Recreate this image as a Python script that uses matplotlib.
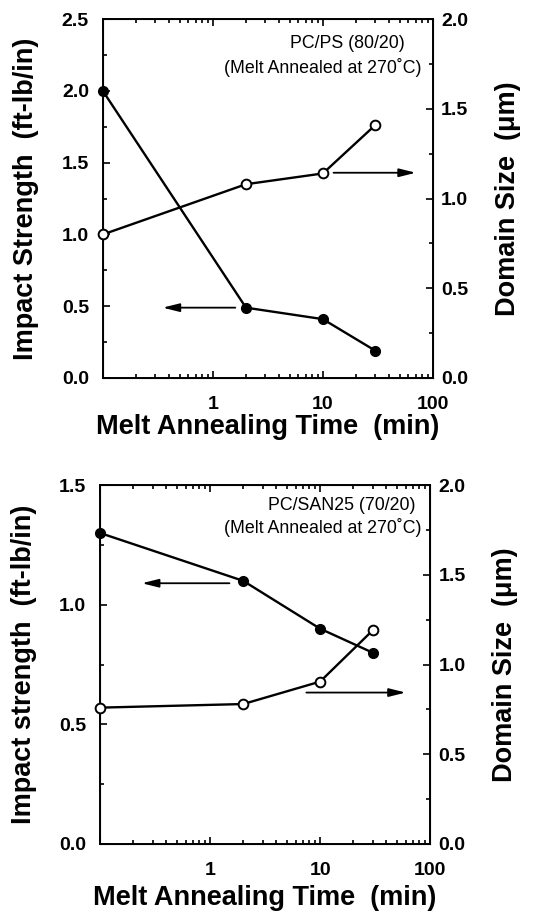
import numpy as np
import matplotlib
matplotlib.use('Agg')
import matplotlib.pyplot as plt
from matplotlib.ticker import MultipleLocator, LogLocator, NullFormatter

plt.rcParams['font.family'] = ['Liberation Sans', 'DejaVu Sans']

# annealing time (min)
time = [0.1, 2, 10, 30]

# PC/PS (80/20)
ps_impact = [2.0, 0.49, 0.41, 0.19]
ps_domain = [0.80, 1.08, 1.14, 1.41]

# PC/SAN25 (70/20)
san_impact = [1.30, 1.10, 0.90, 0.80]
san_domain = [0.76, 0.78, 0.905, 1.19]

xtick_vals = [0.1, 1, 10, 100]
xtick_labels = ['', '1', '10', '100']

fig = plt.figure(figsize=(5.5, 9.13), dpi=100)


def panel(rect, impact, domain, ymax_left, ylabel, title1, title2, t1pos, t2pos,
          larrow, rarrow, xlabelpad):
    ax = fig.add_axes(rect)
    ax.plot(time, impact, '-o', color='black', lw=1.7, ms=7,
            mfc='black', mec='black', zorder=3, clip_on=False)
    ax.set_xscale('log')
    ax.set_xlim(0.1, 100)
    ax.set_ylim(0, ymax_left)
    ax.set_xticks(xtick_vals)
    ax.set_xticklabels(xtick_labels)
    ax.xaxis.set_minor_locator(LogLocator(base=10, subs=np.arange(2, 10)))
    ax.xaxis.set_minor_formatter(NullFormatter())
    ax.yaxis.set_major_locator(MultipleLocator(0.5))
    ax.yaxis.set_minor_locator(MultipleLocator(0.25))
    ax.set_yticklabels(['%.1f' % v for v in ax.get_yticks()])
    ax.tick_params(which='both', direction='in', top=True, width=1.2)
    ax.tick_params(which='major', length=5)
    ax.tick_params(which='minor', length=3)
    ax.tick_params(axis='both', labelsize=14)
    ax.tick_params(axis='y', pad=10)
    ax.tick_params(axis='x', pad=13)
    for lab in ax.get_xticklabels() + ax.get_yticklabels():
        lab.set_fontweight('bold')
    for s in ax.spines.values():
        s.set_linewidth(1.4)
    ax.set_xlabel('Melt Annealing Time  (min)', fontsize=19.5, fontweight='bold',
                  labelpad=xlabelpad)
    ax.set_ylabel(ylabel, fontsize=19.5, fontweight='bold', labelpad=16)

    ax2 = ax.twinx()
    ax2.plot(time, domain, '-o', color='black', lw=1.7, ms=7,
             mfc='white', mec='black', mew=1.4, zorder=3, clip_on=False)
    ax2.set_ylim(0, 2.0)
    ax2.yaxis.set_major_locator(MultipleLocator(0.5))
    ax2.yaxis.set_minor_locator(MultipleLocator(0.25))
    ax2.set_yticklabels(['%.1f' % v for v in ax2.get_yticks()])
    ax2.tick_params(which='both', direction='in', width=1.2)
    ax2.tick_params(which='major', length=5)
    ax2.tick_params(which='minor', length=3)
    ax2.tick_params(axis='y', labelsize=14, pad=6)
    for lab in ax2.get_yticklabels():
        lab.set_fontweight('bold')
    ax2.set_ylabel('Domain Size  (\u03bcm)', fontsize=19.5, fontweight='bold',
                   labelpad=19)

    ax.text(t1pos[0], t1pos[1], title1, transform=ax.transAxes, ha='right',
            va='center', fontsize=12.8)
    ax.text(t2pos[0], t2pos[1], title2, transform=ax.transAxes, ha='right',
            va='center', fontsize=12.8)

    aprops = dict(arrowstyle='-|>,head_length=1.0,head_width=0.25',
                  color='black', lw=1.3, shrinkA=0, shrinkB=0)
    ax.annotate('', xy=larrow[1], xytext=larrow[0], arrowprops=aprops)
    ax.annotate('', xy=rarrow[1], xytext=rarrow[0], arrowprops=aprops)
    return ax


panel([0.187, 0.586, 0.60, 0.393], ps_impact, ps_domain, 2.5,
      'Impact Strength  (ft-lb/in)', 'PC/PS (80/20)',
      '(Melt Annealed at 270\u02daC)', (0.915, 0.933), (0.967, 0.866),
      ((1.6, 0.49), (0.35, 0.49)), ((12.5, 1.43), (70, 1.43)), 1)

panel([0.182, 0.0756, 0.60, 0.393], san_impact, san_domain, 1.5,
      'Impact strength  (ft-lb/in)', 'PC/SAN25 (70/20)',
      '(Melt Annealed at 270\u02daC)', (0.955, 0.944), (0.975, 0.883),
      ((1.5, 1.09), (0.24, 1.09)), ((7.5, 0.633), (60, 0.633)), 4)

fig.savefig('out.png', dpi=100)
